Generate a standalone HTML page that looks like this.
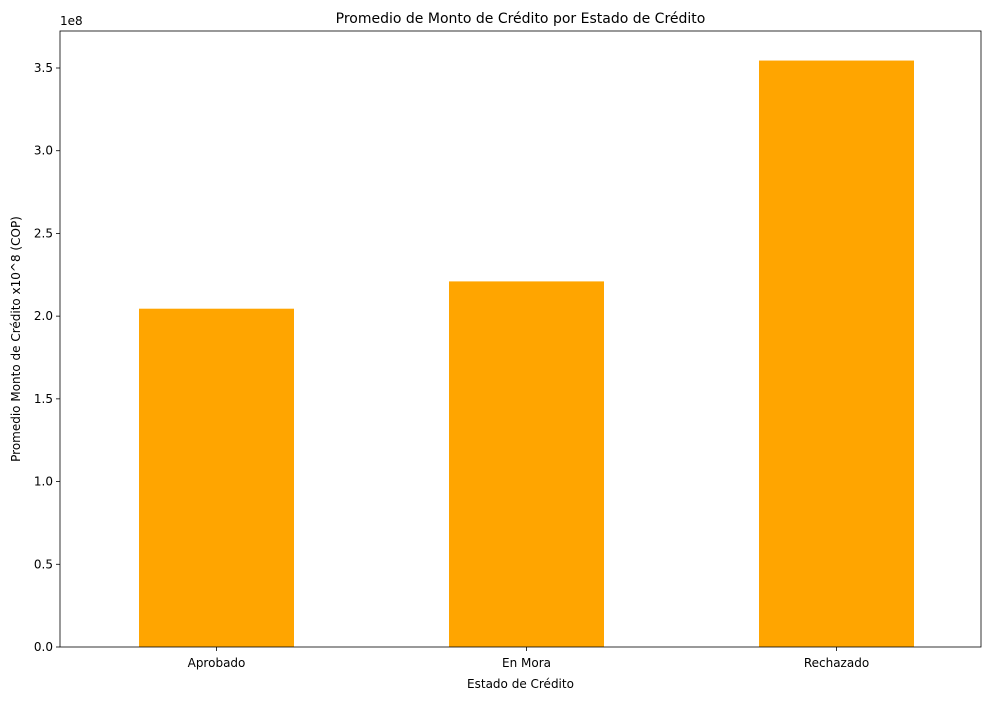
<!DOCTYPE html>
<html><head><meta charset="utf-8"><style>
body{margin:0;background:#fff;font-family:"Liberation Sans","DejaVu Sans",sans-serif;}
</style></head><body>
<svg width="1001" height="700" xmlns="http://www.w3.org/2000/svg" font-family="DejaVu Sans, Liberation Sans, sans-serif">
<g id="plot"></g>
</svg>
<script>
const categories = ["Aprobado","En Mora","Rechazado"];
const values = [2.045, 2.21, 3.545];
const yTicks = [0,0.5,1.0,1.5,2.0,2.5,3.0,3.5];
const yTickLabels = ["0.0","0.5","1.0","1.5","2.0","2.5","3.0","3.5"];

const L=60,R=981,T=31,B=647;
const yMax = 3.5*(B-T)/(647-68);
const y = v => B - v/yMax*(B-T);
const xUnit = 310;
const x = i => 216.5 + i*xUnit;
const NS="http://www.w3.org/2000/svg";
const g=document.getElementById('plot');
function mk(tag,attrs,text){const e=document.createElementNS(NS,tag);for(const k in attrs)e.setAttribute(k,attrs[k]);if(text!==undefined)e.textContent=text;g.appendChild(e);return e;}

categories.forEach((c,i)=>{
  const bw=xUnit*0.5;
  const r=mk('rect',{x:x(i)-bw/2,y:y(values[i]),width:bw,height:B-y(values[i]),fill:'#ffa500'});
  
  
  mk('line',{x1:x(i),x2:x(i),y1:B,y2:B+4,stroke:'#000','stroke-width':0.8});
  const t=mk('text',{x:x(i),y:B+20,'text-anchor':'middle','font-size':12},c);
  
  
});
yTicks.forEach((v,i)=>{
  mk('line',{x1:L-4,x2:L,y1:y(v),y2:y(v),stroke:'#000','stroke-width':0.8});
  const t=mk('text',{x:L-7,y:y(v)+4,'text-anchor':'end','font-size':12},yTickLabels[i]);
  
  
});
const fr=mk('rect',{x:L,y:T,width:R-L,height:B-T,fill:'none',stroke:'#000','stroke-width':0.8});


const off=mk('text',{x:L,y:T-6,'font-size':12},'1e8');


const ti=mk('text',{x:(L+R)/2,y:T-8,'text-anchor':'middle','font-size':14},'Promedio de Monto de Crédito por Estado de Crédito');


const xt=mk('text',{x:(L+R)/2,y:688,'text-anchor':'middle','font-size':12},'Estado de Crédito');


const yt=mk('text',{x:0,y:0,'text-anchor':'middle','font-size':12,transform:'translate(20,'+((T+B)/2)+') rotate(-90)'},'Promedio Monto de Crédito  x10^8 (COP)');


</script>
</body></html>
